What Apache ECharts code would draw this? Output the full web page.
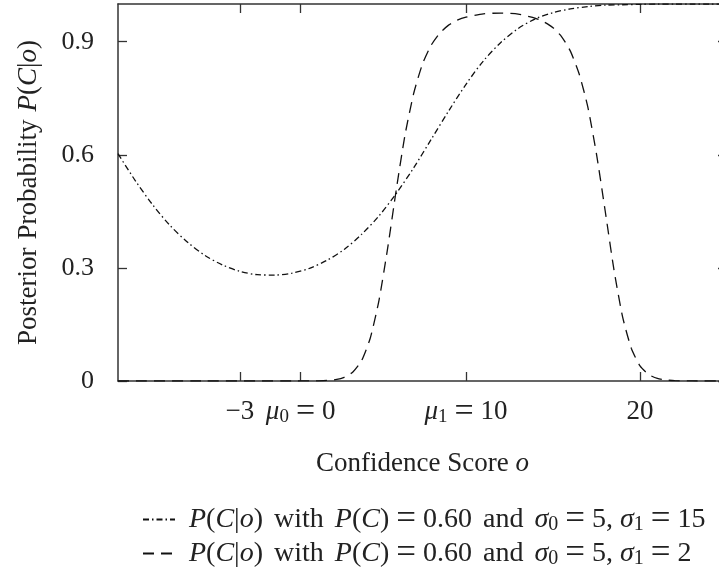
<!DOCTYPE html>
<html>
<head>
<meta charset="utf-8">
<script src="https://cdn.jsdelivr.net/npm/echarts@6/dist/echarts.min.js"></script>
<style>html,body{margin:0;padding:0;background:#fff}#c{width:719px;height:579px}</style>
</head>
<body>
<div id="c"></div>
<script>
// ---- data ----
var dashDotX = [-10,-9,-8,-7,-6,-5,-4,-3,-2,-1,0,1,2,3,4,5,6,7,8,9,10,11,12,13,14,15,16,17,18,19,20,21,22,23,24,25];
var dashDotY = [0.603,0.531,0.467,0.412,0.368,0.333,0.308,0.291,0.282,0.281,0.286,0.299,0.320,0.349,0.389,0.438,0.498,0.566,0.641,0.716,0.787,0.849,0.898,0.935,0.961,0.977,0.987,0.993,0.997,0.998,0.999,1.0,1.0,1.0,1.0,1.0];
var dashX = [-10,-5,0,1,1.5,2,2.5,3,3.5,4,4.5,5,5.5,6,6.5,7,7.5,8,8.5,9,9.5,10,11,12,13,14,14.5,15,15.5,16,16.5,17,17.5,18,18.5,19,19.5,20,20.5,21,21.5,22,23,25];
var dashY = [0,0,0,0.0002,0.0005,0.0014,0.0037,0.0097,0.024,0.054,0.114,0.214,0.353,0.510,0.654,0.764,0.841,0.891,0.923,0.944,0.957,0.965,0.974,0.976,0.973,0.962,0.952,0.937,0.913,0.875,0.815,0.727,0.602,0.451,0.296,0.170,0.087,0.040,0.017,0.0068,0.0026,0.0009,0.0001,0];
var xTickValues = [-3, 0.5, 10, 20];
var xTickLabels = ['\u22123', '{it|\u03bc}{sub|0}{eq|=}0', '{it|\u03bc}{sub|1}{eq|=}10', '20'];
var yTickValues = [0, 0.3, 0.6, 0.9];
var yTickLabels = ['0', '0.3', '0.6', '0.9'];
var seriesNames = ['P(C|o) with P(C) = 0.60 and \u03c30 = 5, \u03c31 = 15', 'P(C|o) with P(C) = 0.60 and \u03c30 = 5, \u03c31 = 2'];
var legendRich = ['{sp|}{it|P}({it|C}|{it|o}){w|}with{w|}{it|P}({it|C}){eq|=}0.60{w|}and{w|}{it|\u03c3}{sub|0}{eq|=}5,{th|}{it|\u03c3}{sub|1}{eq|=}15',
                  '{sp|}{it|P}({it|C}|{it|o}){w|}with{w|}{it|P}({it|C}){eq|=}0.60{w|}and{w|}{it|\u03c3}{sub|0}{eq|=}5,{th|}{it|\u03c3}{sub|1}{eq|=}2'];

function pairs(xs, ys){ return xs.map(function(x,i){ return [x, ys[i]]; }); }

var FONT = 'Liberation Serif';
var FS = 27;
var LFS = 28;
var TC = '#222';
var AX = '#333';
function makeRich(fs, wsp){
  return {
    it: {fontFamily: FONT, fontStyle: 'italic', fontSize: fs, color: TC, lineHeight: 30, verticalAlign: 'middle'},
    sub: {fontFamily: FONT, fontSize: Math.round(fs * 0.7), color: TC, lineHeight: 19, verticalAlign: 'bottom'},
    eq: {fontFamily: FONT, fontSize: Math.round(fs * 1.25), color: TC, lineHeight: 30, verticalAlign: 'middle', padding: [0, 7, 0, 7]},
    th: {width: 7},
    w: {width: wsp},
    sp: {width: 9}
  };
}
var rich = makeRich(FS, 8);
var legendRichStyle = makeRich(LFS, 11);
function axisBase(extra){
  var o = {
    type: 'value',
    axisLine: {show: true, onZero: false, lineStyle: {color: AX, width: 1.5}},
    splitLine: {show: false},
    axisTick: {show: true, inside: true, length: 9, lineStyle: {color: AX, width: 1.3}},
    axisLabel: {show: false}
  };
  for (var k in extra) o[k] = extra[k];
  return o;
}
function legendFor(i, top){
  return {
    orient: 'vertical', left: 137, top: top, itemWidth: 32, itemHeight: 14,
    data: [seriesNames[i]],
    itemStyle: {color: 'rgba(0,0,0,0)', borderWidth: 0, borderColor: 'rgba(0,0,0,0)'},
    formatter: function(name){ return legendRich[seriesNames.indexOf(name)]; },
    textStyle: {fontFamily: FONT, fontSize: LFS, color: TC, lineHeight: 30, rich: legendRichStyle}
  };
}

var chart = echarts.init(document.getElementById('c'), null, {renderer: 'canvas'});
chart.setOption({
  animation: false,
  backgroundColor: '#fff',
  grid: {left: 118, right: -8, top: 4, bottom: 198, containLabel: false, outerBoundsMode: 'none'},
  xAxis: [
    axisBase({
      min: -10, max: 25, position: 'bottom',
      axisTick: {show: true, inside: true, length: 9, customValues: xTickValues, lineStyle: {color: AX, width: 1.3}},
      axisLabel: {
        show: true, customValues: xTickValues, margin: 16,
        fontFamily: FONT, fontSize: FS, color: TC, lineHeight: 30, rich: rich,
        formatter: function(v){ var i = xTickValues.indexOf(v); return i >= 0 ? xTickLabels[i] : ''; }
      },
      name: 'Confidence Score {it|o}', nameLocation: 'middle', nameGap: 68,
      nameTextStyle: {fontFamily: FONT, fontSize: FS, color: TC, lineHeight: 30, rich: rich}
    }),
    axisBase({
      min: -10, max: 25, position: 'top',
      axisTick: {show: true, inside: true, length: 9, customValues: xTickValues, lineStyle: {color: AX, width: 1.3}}
    })
  ],
  yAxis: [
    axisBase({
      min: 0, max: 1, position: 'left',
      axisTick: {show: true, inside: true, length: 9, customValues: yTickValues, lineStyle: {color: AX, width: 1.3}},
      axisLabel: {
        show: true, customValues: yTickValues, margin: 24,
        fontFamily: FONT, fontSize: 26, color: TC,
        formatter: function(v){ var i = yTickValues.indexOf(v); return i >= 0 ? yTickLabels[i] : ''; }
      },
      name: 'Posterior{w|}Probability{w|}{it|P}({it|C}|{it|o})', nameLocation: 'middle', nameGap: 74, nameRotate: 90,
      nameTextStyle: {fontFamily: FONT, fontSize: FS, color: TC, lineHeight: 30, rich: rich}
    }),
    axisBase({
      min: 0, max: 1, position: 'right',
      axisTick: {show: true, inside: true, length: 9, customValues: yTickValues, lineStyle: {color: AX, width: 1.3}}
    })
  ],
  legend: [legendFor(0, 497), legendFor(1, 531)],
  series: [
    {
      name: seriesNames[0], type: 'line', xAxisIndex: 0, yAxisIndex: 0,
      data: pairs(dashDotX, dashDotY), smooth: 0.3, symbol: 'none',
      lineStyle: {color: '#111', width: 1.3, type: [6, 3, 1.5, 3]},
      itemStyle: {color: '#111'}
    },
    {
      name: seriesNames[1], type: 'line', xAxisIndex: 0, yAxisIndex: 0,
      data: pairs(dashX, dashY), smooth: 0.2, symbol: 'none',
      lineStyle: {color: '#111', width: 1.3, type: [11, 7]},
      itemStyle: {color: '#111'}
    }
  ]
});
</script>
</body>
</html>
